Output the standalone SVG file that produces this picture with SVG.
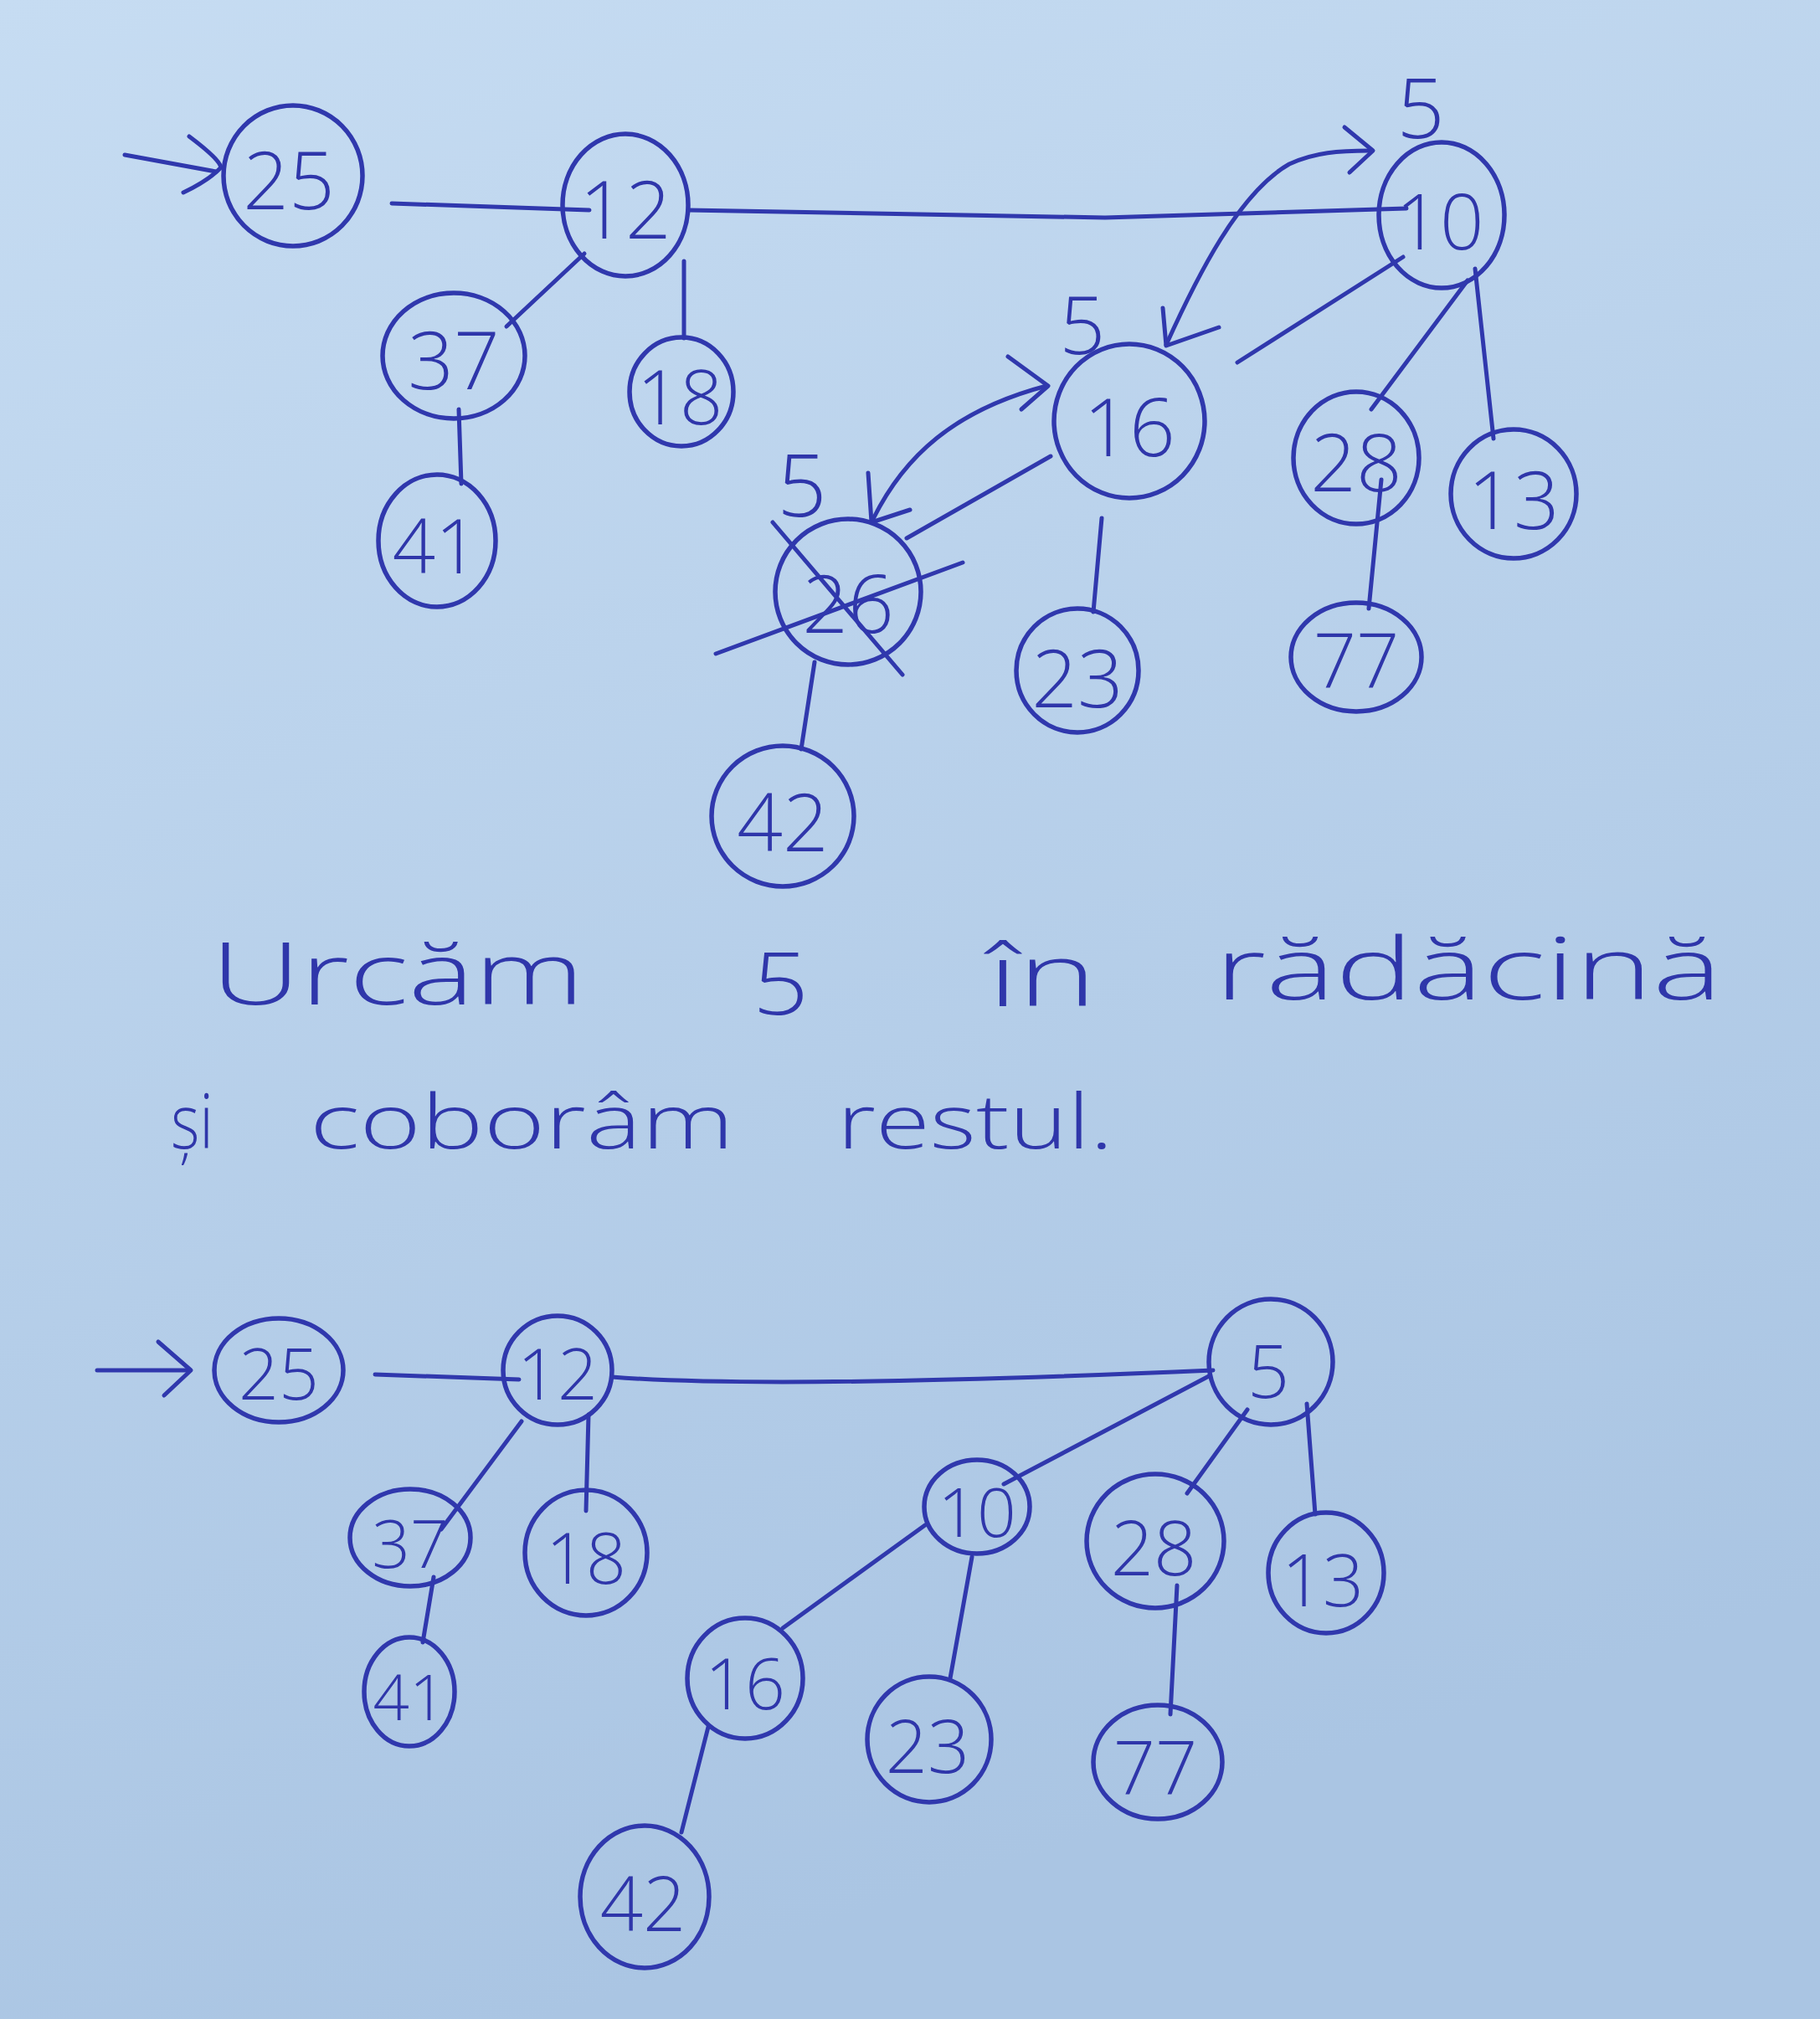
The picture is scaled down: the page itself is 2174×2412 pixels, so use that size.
<svg xmlns="http://www.w3.org/2000/svg" width="2174" height="2412" viewBox="0 0 2174 2412">
<defs>
<linearGradient id="paper" x1="0" y1="0" x2="0.3" y2="1">
<stop offset="0" stop-color="#c6dcf2"/>
<stop offset="1" stop-color="#aac5e3"/>
</linearGradient>
<style>
.n{fill:none;stroke:#3038ad;stroke-width:5.5}
.c{fill:none;stroke:#3038ad;stroke-width:5;stroke-linecap:round;stroke-linejoin:round}
.t{font-family:"Open Sans","Lato","Liberation Sans",sans-serif;font-weight:300;fill:#2f36aa;text-anchor:middle;dominant-baseline:central}
.w{font-family:"Open Sans","Lato","Liberation Sans",sans-serif;font-weight:300;fill:#2f36aa}
</style>
</defs>
<rect width="2174" height="2412" fill="url(#paper)"/>

<g id="connectors">
<!-- top tree -->
<path class="c" d="M149,185 L258,205"/>
<path class="c" d="M226,163 Q262,190 264,200 Q250,215 219,230"/>
<path class="c" d="M468,243 L704,251"/>
<path class="c" d="M822,251 L1320,260 L1680,249"/>
<path class="c" d="M698,303 L605,390"/>
<path class="c" d="M817,312 L817,404"/>
<path class="c" d="M548,489 L551,578"/>
<path class="c" d="M1676,307 L1478,433"/>
<path class="c" d="M1753,335 L1638,489"/>
<path class="c" d="M1762,321 L1784,524"/>
<path class="c" d="M1650,573 L1635,727"/>
<path class="c" d="M1316,619 L1306,731"/>
<path class="c" d="M1255,545 L1083,643"/>
<path class="c" d="M973,791 L957,895"/>
<!-- curved arrow 16 <-> 10 -->
<path class="c" d="M1393,412 C1430,330 1480,230 1540,196 C1570,182 1600,180 1636,180"/>
<path class="c" d="M1606,152 L1640,180 L1612,206"/>
<path class="c" d="M1389,368 L1393,413 L1456,391"/>
<!-- curved arrow 26 <-> 16 -->
<path class="c" d="M1043,620 C1080,545 1140,490 1250,461"/>
<path class="c" d="M1204,426 L1252,461 L1220,489"/>
<path class="c" d="M1037,565 L1041,624 L1087,609"/>
<!-- bottom tree -->
<path class="c" d="M116,1637 L226,1637"/>
<path class="c" d="M189,1603 L228,1637 L196,1667"/>
<path class="c" d="M448,1642 L620,1648"/>
<path class="c" d="M731,1645 Q923,1660 1449,1637"/>
<path class="c" d="M623,1698 L527,1827"/>
<path class="c" d="M703,1690 L700,1805"/>
<path class="c" d="M518,1884 L505,1962"/>
<path class="c" d="M1444,1644 L1199,1773"/>
<path class="c" d="M1490,1684 L1418,1784"/>
<path class="c" d="M1561,1677 L1571,1809"/>
<path class="c" d="M1105,1822 L935,1945"/>
<path class="c" d="M1161,1860 L1135,2005"/>
<path class="c" d="M1406,1894 L1398,2048"/>
<path class="c" d="M846,2063 L814,2189"/>
</g>

<!-- top tree nodes -->
<g id="t25"><ellipse class="n" cx="350" cy="210" rx="83" ry="84"/><text class="t" x="345" y="212" font-size="96">25</text></g>
<g id="t12"><ellipse class="n" cx="747" cy="245" rx="75" ry="85"/><text class="t" x="747" y="247" font-size="96">12</text></g>
<g id="t10"><ellipse class="n" cx="1722" cy="257" rx="75" ry="87"/><text class="t" x="1720" y="262" font-size="92">10</text>
<text class="t" x="1697" y="126" font-size="100">5</text></g>
<g id="t37"><ellipse class="n" cx="542" cy="425" rx="85" ry="75"/><text class="t" x="542" y="427" font-size="96">37</text></g>
<g id="t18"><ellipse class="n" cx="814" cy="468" rx="62" ry="65"/><text class="t" x="812" y="472" font-size="90">18</text></g>
<g id="t41"><ellipse class="n" cx="522" cy="646" rx="70" ry="79"/><text class="t" x="520" y="650" font-size="90">41</text></g>
<g id="t16"><ellipse class="n" cx="1349" cy="503" rx="90" ry="92"/><text class="t" x="1349" y="507" font-size="96">16</text>
<text class="t" x="1293" y="385" font-size="96">5</text></g>
<g id="t26"><ellipse class="n" cx="1013" cy="707" rx="87" ry="87"/><text class="t" x="1013" y="718" font-size="96">26</text>
<path class="c" d="M923,624 L1078,806"/><path class="c" d="M855,781 L1150,672"/>
<text class="t" x="958" y="576" font-size="104">5</text></g>
<g id="t28"><ellipse class="n" cx="1620" cy="547" rx="75" ry="79"/><text class="t" x="1620" y="549" font-size="96">28</text></g>
<g id="t13"><ellipse class="n" cx="1808" cy="590" rx="75" ry="77"/><text class="t" x="1808" y="594" font-size="96">13</text></g>
<g id="t77"><ellipse class="n" cx="1620" cy="785" rx="78" ry="65"/><text class="t" x="1620" y="787" font-size="90">77</text></g>
<g id="t23"><ellipse class="n" cx="1287" cy="801" rx="73" ry="74"/><text class="t" x="1287" y="807" font-size="96">23</text></g>
<g id="t42"><ellipse class="n" cx="935" cy="975" rx="85" ry="84"/><text class="t" x="935" y="979" font-size="96">42</text></g>

<!-- text -->
<g id="caption">
<text class="w" x="252" y="1200" font-size="104" textLength="446" lengthAdjust="spacingAndGlyphs">Urcăm</text>
<text class="w" x="899" y="1212" font-size="104" textLength="67" lengthAdjust="spacingAndGlyphs">5</text>
<text class="w" x="1180" y="1202" font-size="104" textLength="130" lengthAdjust="spacingAndGlyphs">în</text>
<text class="w" x="1451" y="1194" font-size="104" textLength="606" lengthAdjust="spacingAndGlyphs">rădăcină</text>
<text class="w" x="204" y="1372" font-size="90" textLength="51" lengthAdjust="spacingAndGlyphs">și</text>
<text class="w" x="370" y="1372" font-size="90" textLength="507" lengthAdjust="spacingAndGlyphs">coborâm</text>
<text class="w" x="1000" y="1372" font-size="90" textLength="330" lengthAdjust="spacingAndGlyphs">restul.</text>
</g>

<!-- bottom tree nodes -->
<g id="b25"><ellipse class="n" cx="333" cy="1637" rx="77" ry="62"/><text class="t" x="333" y="1639" font-size="84">25</text></g>
<g id="b12"><ellipse class="n" cx="666" cy="1637" rx="65" ry="65"/><text class="t" x="666" y="1639" font-size="84">12</text></g>
<g id="b5"><ellipse class="n" cx="1518" cy="1627" rx="74" ry="75"/><text class="t" x="1515" y="1636" font-size="88">5</text></g>
<g id="b37"><ellipse class="n" cx="490" cy="1837" rx="72" ry="58"/><text class="t" x="490" y="1841" font-size="80">37</text></g>
<g id="b18"><ellipse class="n" cx="700" cy="1855" rx="73" ry="75"/><text class="t" x="700" y="1859" font-size="84">18</text></g>
<g id="b41"><ellipse class="n" cx="489" cy="2021" rx="54" ry="65"/><text class="t" x="489" y="2025" font-size="76">41</text></g>
<g id="b10"><ellipse class="n" cx="1167" cy="1800" rx="63" ry="56"/><text class="t" x="1167" y="1804" font-size="82">10</text></g>
<g id="b28"><ellipse class="n" cx="1380" cy="1841" rx="82" ry="80"/><text class="t" x="1378" y="1847" font-size="90">28</text></g>
<g id="b13"><ellipse class="n" cx="1584" cy="1879" rx="69" ry="72"/><text class="t" x="1580" y="1885" font-size="86">13</text></g>
<g id="b16"><ellipse class="n" cx="890" cy="2005" rx="69" ry="72"/><text class="t" x="890" y="2009" font-size="84">16</text></g>
<g id="b23"><ellipse class="n" cx="1110" cy="2078" rx="74" ry="75"/><text class="t" x="1108" y="2084" font-size="88">23</text></g>
<g id="b77"><ellipse class="n" cx="1383" cy="2105" rx="77" ry="68"/><text class="t" x="1380" y="2109" font-size="88">77</text></g>
<g id="b42"><ellipse class="n" cx="770" cy="2266" rx="77" ry="85"/><text class="t" x="768" y="2272" font-size="90">42</text></g>
</svg>
